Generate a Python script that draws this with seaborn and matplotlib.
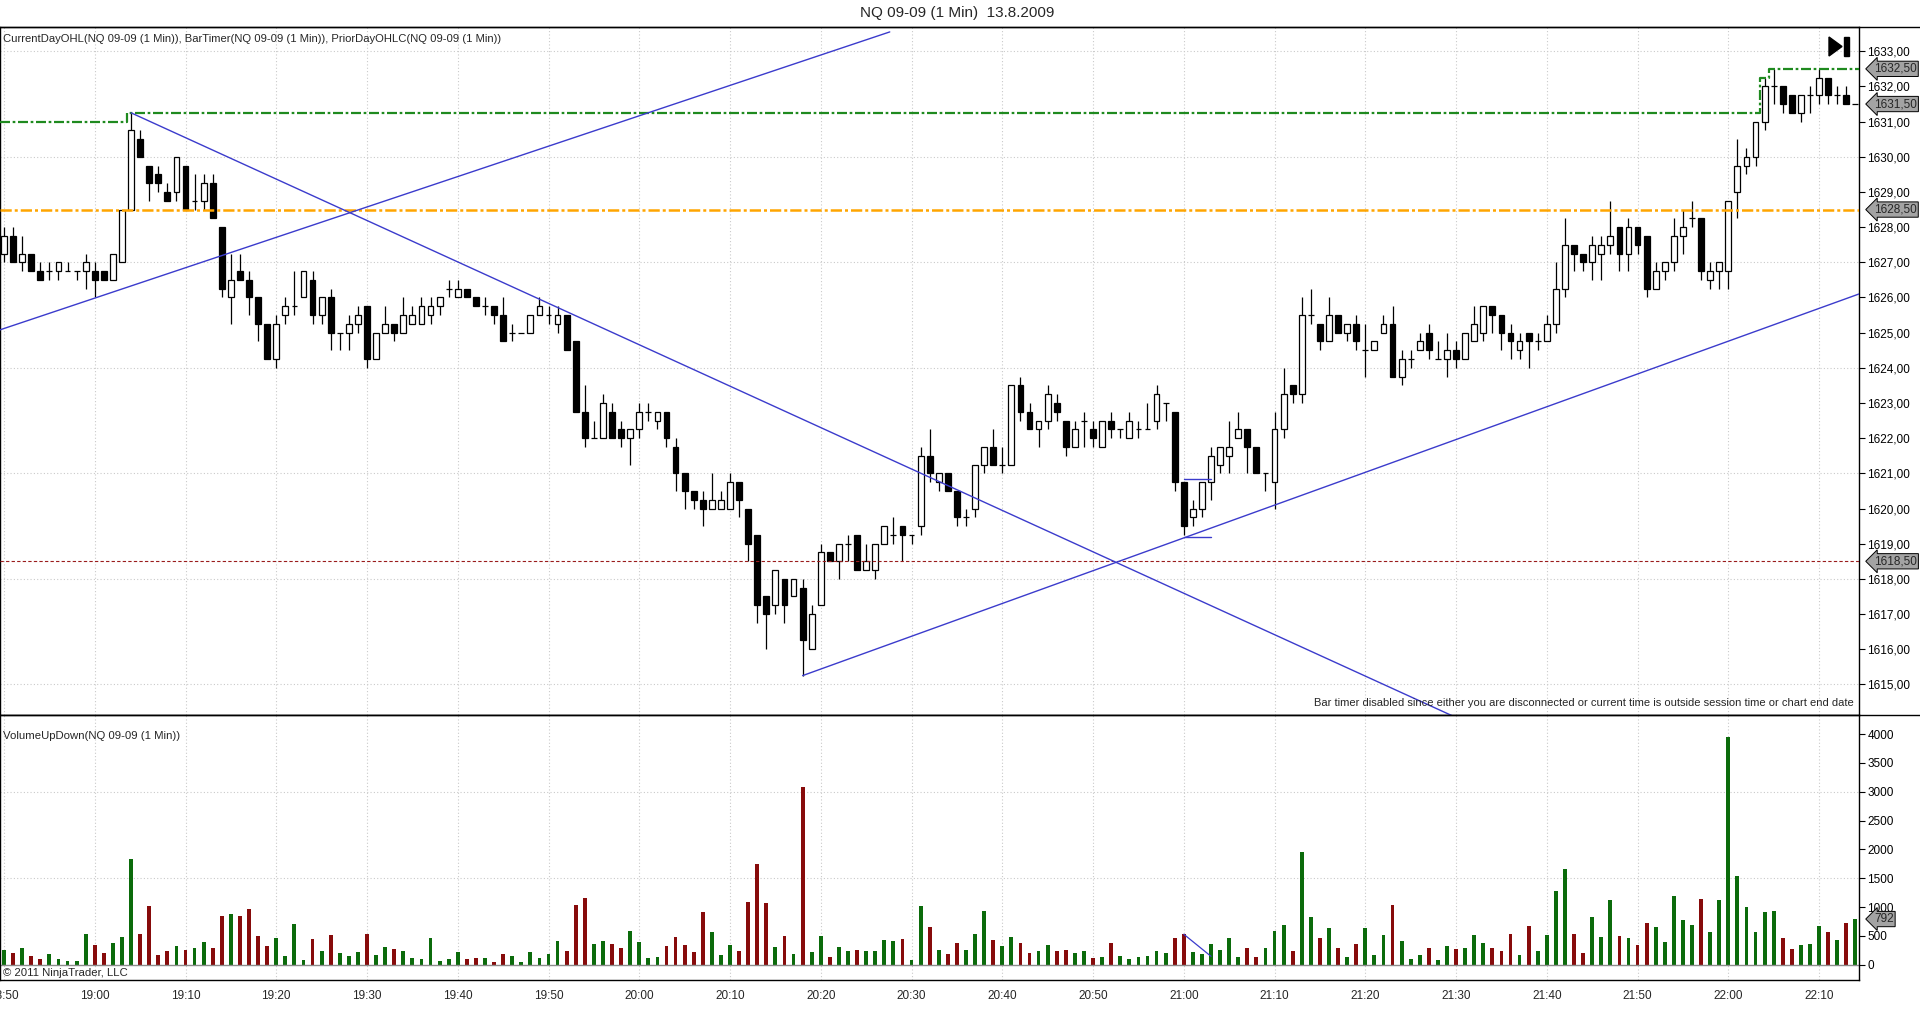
import numpy as np
import pandas as pd
import matplotlib
matplotlib.use("Agg")
import matplotlib.pyplot as plt
import matplotlib.transforms as mtransforms
from matplotlib.patches import Polygon, Rectangle
import seaborn as sns

# NQ 09-09, 1 minute bars from 18:50 to 22:14
opens = [1627.25,1627.75,1627.0,1627.25,1626.75,1626.75,1626.75,1626.75,1626.75,1626.75,
         1626.75,1626.75,1626.5,1627.0,1628.5,1630.5,1629.75,1629.5,1629.0,1629.0,
         1629.75,1628.75,1628.75,1629.25,1628.0,1626.0,1626.75,1626.5,1626.0,1625.25,
         1624.25,1625.5,1625.75,1626.0,1626.5,1625.5,1626.0,1625.0,1625.0,1625.25,
         1625.75,1624.25,1625.0,1625.25,1625.0,1625.25,1625.25,1625.5,1625.75,1626.25,
         1626.0,1626.25,1626.0,1625.75,1625.75,1625.5,1625.0,1625.0,1625.0,1625.5,
         1625.5,1625.25,1625.5,1624.75,1622.75,1622.0,1622.0,1622.75,1622.25,1622.0,
         1622.25,1622.75,1622.5,1622.75,1621.75,1621.0,1620.5,1620.25,1620.0,1620.0,
         1620.0,1620.75,1620.0,1619.25,1617.5,1617.25,1618.0,1617.5,1617.75,1616.0,
         1617.25,1618.75,1618.5,1619.0,1619.25,1618.25,1618.25,1619.0,1619.25,1619.5,
         1619.25,1619.5,1621.5,1620.75,1621.0,1620.5,1619.75,1620.0,1621.25,1621.75,
         1621.25,1621.25,1623.5,1622.75,1622.25,1622.5,1623.0,1622.5,1621.75,1622.5,
         1622.25,1621.75,1622.5,1622.25,1622.0,1622.25,1622.25,1622.5,1623.0,1622.75,
         1620.75,1619.75,1620.0,1620.75,1621.25,1621.5,1622.0,1622.25,1621.75,1621.0,
         1620.75,1622.25,1623.5,1623.25,1625.5,1625.25,1624.75,1625.5,1625.0,1625.25,
         1624.5,1624.5,1625.0,1625.25,1623.75,1624.25,1624.5,1625.0,1624.25,1624.25,
         1624.5,1624.25,1624.75,1625.0,1625.75,1625.5,1625.0,1624.5,1625.0,1624.75,
         1624.75,1625.25,1626.25,1627.5,1627.25,1627.0,1627.25,1627.5,1628.0,1627.25,
         1628.0,1627.75,1626.25,1626.75,1627.0,1627.75,1628.25,1628.25,1626.5,1626.75,
         1626.75,1629.0,1629.75,1630.0,1631.0,1632.0,1632.0,1631.75,1631.25,1631.75,
         1631.75,1632.25,1631.75,1631.75,1631.5]
highs = [1628.0,1628.0,1627.75,1627.25,1627.0,1627.0,1627.0,1627.0,1626.75,1627.25,
         1627.0,1626.75,1627.25,1628.5,1631.25,1630.75,1629.75,1629.75,1629.25,1630.0,
         1629.75,1629.5,1629.5,1629.5,1628.0,1627.25,1627.25,1626.75,1626.0,1625.25,
         1625.5,1626.0,1626.75,1626.75,1626.75,1626.0,1626.25,1625.0,1625.5,1625.75,
         1625.75,1625.0,1625.75,1625.25,1626.0,1625.75,1626.0,1626.0,1626.0,1626.5,
         1626.5,1626.25,1626.0,1626.0,1625.75,1626.0,1625.25,1625.0,1625.5,1626.0,
         1625.75,1625.75,1625.5,1624.75,1623.5,1622.5,1623.25,1623.0,1622.5,1622.25,
         1623.0,1623.0,1622.75,1622.75,1622.0,1621.0,1620.5,1620.5,1621.0,1620.5,
         1621.0,1620.75,1620.0,1619.25,1617.5,1618.25,1618.0,1618.0,1618.0,1617.25,
         1619.0,1618.75,1619.0,1619.25,1619.25,1619.0,1619.0,1619.5,1619.75,1619.5,
         1619.25,1621.75,1622.25,1621.0,1621.0,1620.5,1620.0,1621.25,1621.75,1622.25,
         1621.75,1623.5,1623.75,1623.0,1622.5,1623.5,1623.25,1622.5,1622.5,1622.75,
         1622.5,1622.5,1622.75,1622.25,1622.75,1622.5,1623.0,1623.5,1623.0,1622.75,
         1620.75,1620.25,1620.75,1621.75,1621.75,1622.5,1622.75,1622.25,1621.75,1621.0,
         1622.75,1624.0,1623.5,1626.0,1626.25,1625.25,1626.0,1625.5,1625.25,1625.5,
         1625.25,1624.75,1625.5,1625.75,1624.5,1624.5,1625.0,1625.25,1624.75,1625.0,
         1624.75,1625.0,1625.75,1625.75,1625.75,1625.5,1625.25,1625.0,1625.0,1625.0,
         1625.5,1627.0,1628.25,1627.5,1627.25,1627.75,1627.75,1628.75,1628.0,1628.25,
         1628.0,1627.75,1627.0,1627.0,1628.25,1628.5,1628.75,1628.25,1627.0,1627.0,
         1628.75,1630.5,1630.25,1631.0,1632.25,1632.5,1632.0,1631.75,1631.75,1632.0,
         1632.5,1632.25,1632.0,1632.0,1631.5]
lows = [1627.0,1627.0,1626.75,1626.75,1626.5,1626.5,1626.5,1626.75,1626.5,1626.25,
        1626.0,1626.5,1626.5,1627.0,1628.5,1630.0,1628.75,1629.0,1628.75,1628.75,
        1628.5,1628.5,1628.5,1628.25,1626.0,1625.25,1626.5,1625.5,1624.75,1624.25,
        1624.0,1625.25,1625.5,1626.0,1625.25,1625.25,1624.5,1624.5,1624.5,1625.0,
        1624.0,1624.25,1625.0,1624.75,1625.0,1625.25,1625.25,1625.25,1625.5,1626.0,
        1626.0,1626.0,1625.75,1625.5,1625.25,1624.75,1624.75,1625.0,1625.0,1625.5,
        1625.25,1625.0,1624.5,1622.75,1621.75,1622.0,1622.0,1622.0,1621.75,1621.25,
        1622.0,1622.5,1622.25,1621.75,1620.5,1620.0,1620.0,1619.5,1620.0,1620.0,
        1620.0,1619.75,1618.5,1616.75,1616.0,1617.0,1616.75,1617.5,1615.25,1616.0,
        1617.25,1618.5,1618.0,1618.5,1618.25,1618.25,1618.0,1619.0,1619.0,1618.5,
        1619.0,1619.25,1620.75,1620.5,1620.5,1619.5,1619.5,1619.75,1621.0,1621.25,
        1621.0,1621.25,1622.5,1622.25,1621.75,1622.25,1622.5,1621.5,1621.75,1621.75,
        1621.75,1621.75,1622.0,1622.0,1622.0,1622.0,1622.25,1622.25,1622.5,1620.5,
        1619.25,1619.5,1619.75,1620.25,1621.0,1621.0,1622.0,1621.0,1621.0,1620.5,
        1620.0,1622.0,1623.0,1623.0,1625.25,1624.5,1624.75,1625.0,1624.75,1624.5,
        1623.75,1624.5,1625.0,1623.75,1623.5,1624.0,1624.5,1624.25,1624.25,1623.75,
        1624.0,1624.25,1624.75,1624.75,1625.0,1624.5,1624.25,1624.25,1624.0,1624.5,
        1624.75,1625.0,1626.0,1626.75,1626.75,1626.5,1626.5,1627.25,1626.75,1626.75,
        1627.25,1626.0,1626.25,1626.5,1626.75,1627.25,1628.0,1626.5,1626.25,1626.25,
        1626.25,1628.25,1629.5,1629.75,1630.75,1631.5,1631.25,1631.25,1631.0,1631.25,
        1631.5,1631.5,1631.5,1631.5,1631.5]
closes = [1627.75,1627.0,1627.25,1626.75,1626.5,1626.75,1627.0,1626.75,1626.75,1627.0,
          1626.5,1626.5,1627.25,1628.5,1630.75,1630.0,1629.25,1629.25,1628.75,1630.0,
          1628.5,1628.75,1629.25,1628.25,1626.25,1626.5,1626.5,1626.0,1625.25,1624.25,
          1625.25,1625.75,1625.75,1626.75,1625.5,1626.0,1625.0,1625.0,1625.25,1625.5,
          1624.25,1625.0,1625.25,1625.0,1625.5,1625.5,1625.75,1625.75,1626.0,1626.25,
          1626.25,1626.0,1625.75,1625.75,1625.5,1624.75,1625.0,1625.0,1625.5,1625.75,
          1625.5,1625.5,1624.5,1622.75,1622.0,1622.0,1623.0,1622.0,1622.0,1622.25,
          1622.75,1622.75,1622.75,1622.0,1621.0,1620.5,1620.25,1620.0,1620.25,1620.25,
          1620.75,1620.25,1619.0,1617.25,1617.0,1618.25,1617.25,1618.0,1616.25,1617.0,
          1618.75,1618.5,1619.0,1619.0,1618.25,1618.5,1619.0,1619.5,1619.25,1619.25,
          1619.25,1621.5,1621.0,1621.0,1620.5,1619.75,1619.75,1621.25,1621.75,1621.25,
          1621.25,1623.5,1622.75,1622.25,1622.5,1623.25,1622.75,1621.75,1622.25,1622.5,
          1622.0,1622.5,1622.25,1622.25,1622.5,1622.25,1622.25,1623.25,1623.0,1620.75,
          1619.5,1620.0,1620.75,1621.5,1621.75,1621.75,1622.25,1621.75,1621.0,1621.0,
          1622.25,1623.25,1623.25,1625.5,1625.5,1624.75,1625.5,1625.0,1625.25,1624.75,
          1624.5,1624.75,1625.25,1623.75,1624.25,1624.25,1624.75,1624.5,1624.25,1624.5,
          1624.25,1625.0,1625.25,1625.75,1625.5,1625.0,1624.75,1624.75,1624.75,1624.75,
          1625.25,1626.25,1627.5,1627.25,1627.0,1627.5,1627.5,1627.75,1627.25,1628.0,
          1627.5,1626.25,1626.75,1627.0,1627.75,1628.0,1628.25,1626.75,1626.75,1627.0,
          1628.75,1629.75,1630.0,1631.0,1632.0,1632.0,1631.5,1631.25,1631.75,1631.75,
          1632.25,1631.75,1631.75,1631.5,1631.5]
volumes = [250,210,296,145,105,190,105,58,58,528,
           348,210,383,476,1827,528,1015,162,232,319,
           261,296,389,296,841,876,841,963,493,319,
           458,145,702,75,441,232,510,197,145,215,
           528,162,302,267,232,110,93,458,58,93,
           215,93,110,110,41,180,145,41,215,110,
           180,406,232,1032,1154,354,406,354,284,580,
           389,110,128,319,476,336,215,911,563,162,
           336,232,1085,1746,1067,302,493,180,3086,215,
           493,128,302,232,249,232,232,423,406,441,
           75,1015,650,249,180,371,249,528,928,423,
           319,476,371,197,232,336,232,249,197,232,
           110,128,371,145,93,128,145,232,197,458,
           528,215,180,354,249,458,128,284,128,284,
           580,684,232,1955,824,458,632,284,128,354,
           632,162,510,1032,406,93,162,284,75,319,
           267,284,510,371,284,232,528,162,667,232,
           510,1276,1659,528,197,824,476,1119,493,458,
           336,719,650,389,1189,771,684,1137,563,1119,
           3956,1537,998,563,911,928,458,267,336,354,
           667,563,423,719,792]
time_labels = ["18:50", "19:00", "19:10", "19:20", "19:30", "19:40", "19:50", "20:00",
               "20:10", "20:20", "20:30", "20:40", "20:50", "21:00", "21:10", "21:20",
               "21:30", "21:40", "21:50", "22:00", "22:10"]
price_ticks = list(range(1615, 1634))
volume_ticks = list(range(0, 4001, 500))

prior_day_high = 1631.0     # current day high before the first bar
prior_close = 1628.5
prior_low = 1618.5
last_price = 1631.5
last_volume = 792

# hand drawn trend lines: (bar, price) pairs
trend_lines = [[(-0.44, 1625.08), (97.6, 1633.55)],
               [(14.0, 1631.25), (160.5, 1614.0)],
               [(88.0, 1615.25), (204.4, 1626.1)],
               [(130.0, 1620.83), (133.0, 1620.83)],
               [(130.0, 1619.2), (133.0, 1619.2)]]
vol_line = [(130.0, 528), (133.0, 145)]

opens = np.array(opens); highs = np.array(highs)
lows = np.array(lows); closes = np.array(closes)
n = len(opens)
bars = np.arange(n)
up = closes >= opens

sns.set_style("white")
plt.rcParams["font.family"] = ["Liberation Sans", "DejaVu Sans"]

W, H = 1920, 1025
fig = plt.figure(figsize=(W / 100, H / 100), dpi=100)


def fx(x):
    return x / W


def fy(y):
    return 1 - y / H


x_lo, x_hi = -0.44, 204.4
axp = fig.add_axes([0, fy(715), fx(1859), fy(27) - fy(715)])
axv = fig.add_axes([0, fy(980), fx(1859), fy(715) - fy(980)], sharex=axp)

grid_kw = dict(color="#cacaca", lw=0.8, ls=(0, (1, 2)), zorder=0)
for ax in (axp, axv):
    for t in range(0, n, 10):
        ax.axvline(t, **grid_kw)
for p in range(1615, 1634, 3):
    axp.axhline(p, **grid_kw)
for v in (1500, 3000):
    axv.axhline(v, **grid_kw)

# candles
axp.vlines(bars, lows, highs, color="black", lw=0.9, zorder=2)
body = np.abs(closes - opens)
solid = body > 0
axp.bar(bars[solid], body[solid], bottom=np.minimum(opens, closes)[solid], width=0.64,
        color=np.where(up[solid], "white", "black"), edgecolor="black", linewidth=0.9, zorder=2)
axp.hlines(opens[~solid], bars[~solid] - 0.32, bars[~solid] + 0.32, color="black", lw=0.9, zorder=2)

# indicator levels
day_high = np.maximum.accumulate(np.maximum(highs, prior_day_high))
hx = np.concatenate([[x_lo], bars, [x_hi]])
hy = np.concatenate([[prior_day_high], day_high, [day_high[-1]]])
axp.plot(hx, hy, drawstyle="steps-mid", color="#1f8a1f", lw=1.6,
         ls=(0, (4.5, 1.2, 1.2, 1.2)), zorder=3)
axp.axhline(prior_close, color="#ffa500", lw=1.8, ls=(0, (4.5, 1.2, 1.2, 1.2)), zorder=3)
axp.axhline(prior_low, color="#9a1c1c", lw=0.8, ls=(0, (3, 2)), zorder=3)

for (x0, y0), (x1, y1) in trend_lines:
    axp.plot([x0, x1], [y0, y1], color="#3b3bcc", lw=1.0, zorder=4)

axp.set_xlim(x_lo, x_hi)
axp.set_ylim(1614.13, 1633.69)

# volume
vol_df = pd.DataFrame({"bar": bars, "volume": volumes,
                       "dir": np.where(up, "up", "down")})
sns.barplot(data=vol_df, x="bar", y="volume", hue="dir",
            palette={"up": "#0b6b0b", "down": "#870b0b"}, native_scale=True,
            dodge=False, width=0.42, saturation=1, errorbar=None, legend=False,
            linewidth=0, ax=axv)
axv.axhline(0, color="#8c8c8c", lw=1.0, zorder=1)
axv.plot([p[0] for p in vol_line], [p[1] for p in vol_line], color="#3b3bcc", lw=0.9)
axv.set_xlim(x_lo, x_hi)
axv.set_ylim(-266, 4333)
axv.set_xlabel("")
axv.set_ylabel("")

# axes styling
for ax in (axp, axv):
    for s in ax.spines.values():
        s.set_color("black")
        s.set_linewidth(1.0)
    ax.yaxis.tick_right()
    ax.tick_params(axis="y", direction="out", length=4, width=0.8, labelsize=8.5,
                   pad=2, colors="black")

axp.set_yticks(price_ticks)
axp.set_yticklabels([f"{p:.2f}".replace(".", ",") for p in price_ticks])
axp.tick_params(axis="x", bottom=False, labelbottom=False)
axv.set_yticks(volume_ticks)
axv.set_yticklabels([str(v) for v in volume_ticks])
axv.set_xticks(list(range(0, n, 10)))
axv.set_xticklabels(time_labels)
axv.tick_params(axis="x", direction="out", length=5, width=0.8, labelsize=8.5, pad=2)

# value markers on the right axis
mark_tr = mtransforms.blended_transform_factory(axp.transAxes, axp.transData)
box = dict(boxstyle="larrow,pad=0.14", fc="#a3a3a3", ec="black", lw=0.7)
for p in (day_high[-1], last_price, prior_close, prior_low):
    axp.text(1.008, p, f"{p:.2f}".replace(".", ","), transform=mark_tr, fontsize=8.5,
             va="center", ha="left", bbox=box, clip_on=False, zorder=10)
vol_tr = mtransforms.blended_transform_factory(axv.transAxes, axv.transData)
axv.text(1.008, last_volume, str(last_volume), transform=vol_tr, fontsize=8.5,
         va="center", ha="left", bbox=box, clip_on=False, zorder=10)

# texts
fig.text(0.4985, fy(13), "NQ 09-09 (1 Min)  13.8.2009", ha="center", va="center", fontsize=11)
fig.text(fx(3), fy(39), "CurrentDayOHL(NQ 09-09 (1 Min)), BarTimer(NQ 09-09 (1 Min)), "
         "PriorDayOHLC(NQ 09-09 (1 Min))", ha="left", va="center", fontsize=8.1)
fig.text(fx(1854), fy(703), "Bar timer disabled since either you are disconnected or current "
         "time is outside session time or chart end date", ha="right", va="center", fontsize=8.0)
fig.text(fx(3), fy(736), "VolumeUpDown(NQ 09-09 (1 Min))", ha="left", va="center", fontsize=8.2)
fig.text(fx(3), fy(973), "\u00a9 2011 NinjaTrader, LLC", ha="left", va="center", fontsize=8.2)

# figure frame lines and the "jump to end" button
fig.add_artist(plt.Line2D([0, 1], [fy(27), fy(27)], color="black", lw=1.0))
fig.add_artist(plt.Line2D([0, 1], [fy(715), fy(715)], color="black", lw=1.0))
fig.add_artist(Polygon([(fx(1829), fy(37)), (fx(1829), fy(56)), (fx(1842), fy(46.5))],
                       closed=True, color="black", transform=fig.transFigure))
fig.add_artist(Rectangle((fx(1844), fy(56)), fx(5), fy(37) - fy(56), color="black",
                         transform=fig.transFigure))

fig.savefig("out.png", dpi=100, facecolor="white")
